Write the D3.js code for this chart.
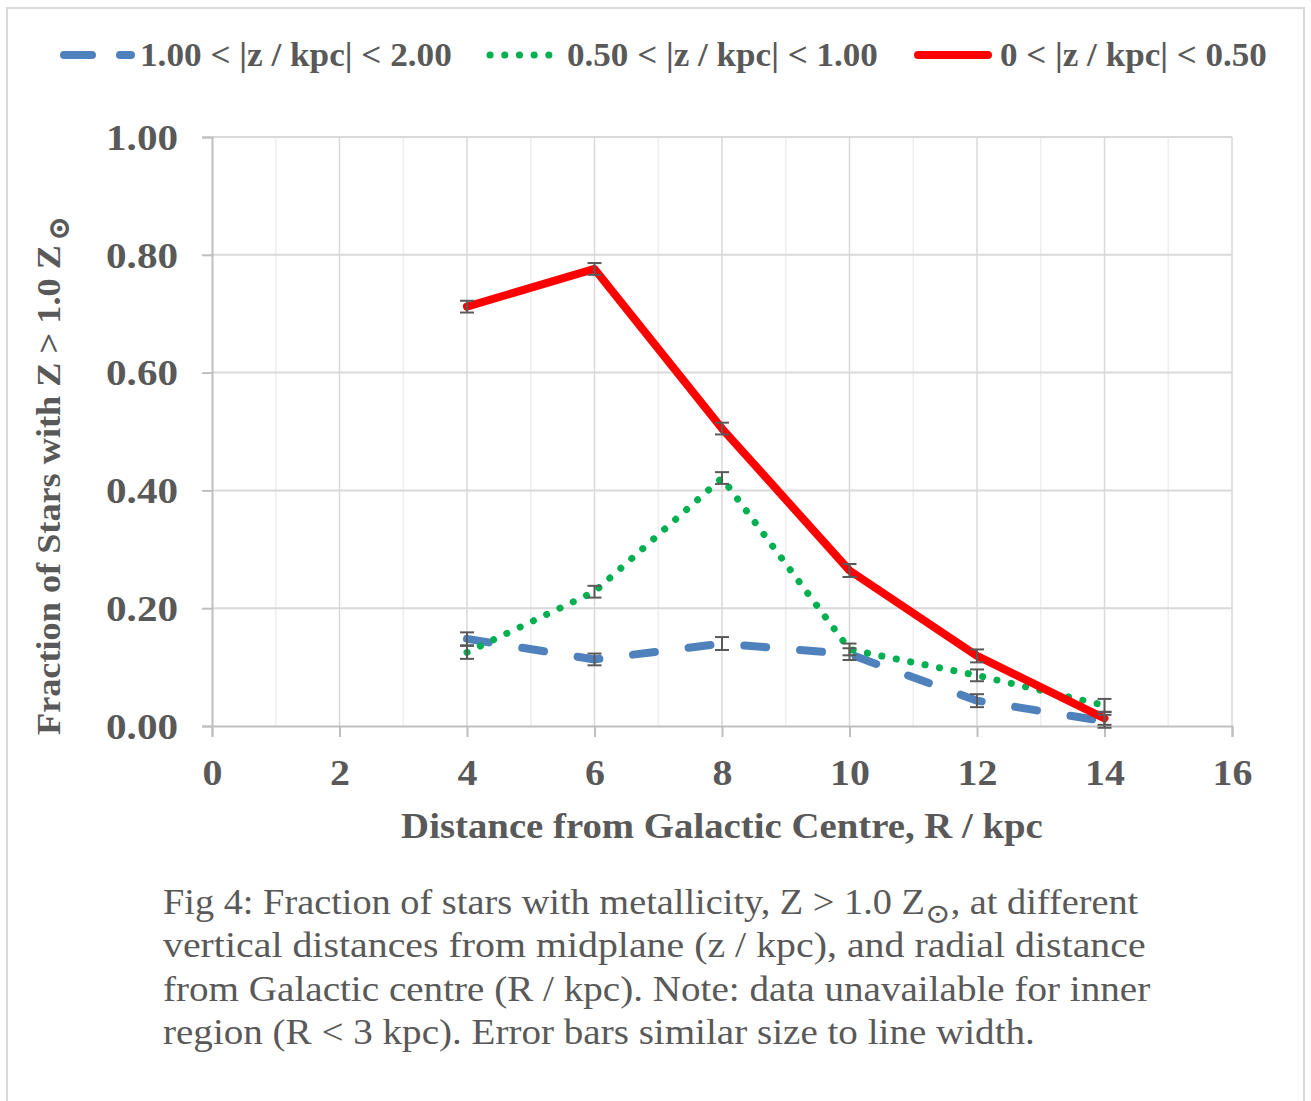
<!DOCTYPE html>
<html><head><meta charset="utf-8">
<script src="https://cdn.jsdelivr.net/npm/d3@7"></script>
<style>body{margin:0;background:#fff}svg{display:block}</style>
</head><body>
<svg id="c" width="1311" height="1101"></svg>
<script>
const radii = [4, 6, 8, 10, 12, 14];
const seriesNames = ["1.00 < |z / kpc| < 2.00", "0.50 < |z / kpc| < 1.00", "0 < |z / kpc| < 0.50"];
const highZ = [0.148, 0.113, 0.140, 0.122, 0.043, 0.008];
const midZ  = [0.125, 0.228, 0.421, 0.130, 0.086, 0.035];
const lowZ  = [0.712, 0.776, 0.505, 0.264, 0.119, 0.013];
const highErr = [0.011, 0.010, 0.011, 0.010, 0.011, 0.011];
const midErr  = [0.011, 0.010, 0.010, 0.010, 0.010, 0.011];
const lowErr  = [0.010, 0.010, 0.010, 0.011, 0.011, 0.011];
const xTicks = [0, 2, 4, 6, 8, 10, 12, 14, 16];
const xMinor = [1, 3, 5, 7, 9, 11, 13, 15];
const yTicks = [0, 0.2, 0.4, 0.6, 0.8, 1.0];
const xTitle = "Distance from Galactic Centre, R / kpc";
const yTitle = "Fraction of Stars with Z > 1.0 Z";
const captionLines = [
  ["Fig 4: Fraction of stars with metallicity, Z > 1.0 Z", "\u2299", ", at different"],
  ["vertical distances from midplane (z / kpc), and radial distance"],
  ["from Galactic centre (R / kpc). Note: data unavailable for inner"],
  ["region (R < 3 kpc). Error bars similar size to line width."]
];

const svg = d3.select("#c");
const FONT = "'Liberation Serif', 'DejaVu Serif', serif";
const TXT = "#595959";

// stretch a text element horizontally about anchor x so that it has width targetW
function stretch(sel, ax, targetW) {
  const w = sel.node().getBBox().width;
  const s = targetW / w;
  sel.attr("transform", `translate(${ax},0) scale(${s},1) translate(${-ax},0)`);
}

svg.append("rect").attr("x", 7).attr("y", 8).attr("width", 1297).attr("height", 1110)
  .attr("fill", "#fff").attr("stroke", "#d9d9d9").attr("stroke-width", 2);

const x = d3.scaleLinear().domain([0, 16]).range([212, 1232]);
const y = d3.scaleLinear().domain([0, 1]).range([726, 137]);

// gridlines
const g = svg.append("g");
g.selectAll(".vminor").data(xMinor).join("line")
  .attr("x1", d => x(d)).attr("x2", d => x(d)).attr("y1", y(1)).attr("y2", y(0))
  .attr("stroke", "#eeeeee").attr("stroke-width", 1.5);
g.selectAll(".vmajor").data(xTicks.slice(1)).join("line")
  .attr("x1", d => x(d)).attr("x2", d => x(d)).attr("y1", y(1)).attr("y2", y(0))
  .attr("stroke", "#d9d9d9").attr("stroke-width", 1.5);
g.selectAll(".hmajor").data(yTicks.slice(1)).join("line")
  .attr("x1", x(0)).attr("x2", x(16)).attr("y1", d => y(d)).attr("y2", d => y(d))
  .attr("stroke", "#d9d9d9").attr("stroke-width", 2);

// axes
const xAxis = d3.axisBottom(x).tickValues(xTicks).tickSize(11).tickFormat(d3.format("d"));
const yAxis = d3.axisLeft(y).tickValues(yTicks).tickSize(10).tickFormat(d3.format(".2f"));
const xa = svg.append("g").attr("transform", `translate(0,${y(0)})`).call(xAxis);
const ya = svg.append("g").attr("transform", `translate(${x(0)},0)`).call(yAxis);
[xa, ya].forEach(a => {
  a.select(".domain").attr("stroke", "#bfbfbf").attr("stroke-width", 2);
  a.selectAll(".tick line").attr("stroke", "#bfbfbf").attr("stroke-width", 2);
  a.selectAll("text").attr("fill", TXT).attr("font-family", FONT)
    .attr("font-weight", "bold").attr("font-size", 35);
});
xa.selectAll(".tick text").attr("y", 34).attr("dy", "0.71em").each(function () {
  const t = d3.select(this);
  stretch(t, 0, this.getBBox().width * 1.14);
});
ya.selectAll(".tick text").attr("x", -34).attr("dy", "0.35em").each(function () {
  const t = d3.select(this);
  stretch(t, -34, 72);
});

// titles
const xt = svg.append("text").attr("x", x(8)).attr("y", 838).attr("text-anchor", "middle")
  .attr("fill", TXT).attr("font-family", FONT).attr("font-weight", "bold").attr("font-size", 35)
  .text(xTitle);
stretch(xt, x(8), 642);

const ytg = svg.append("g").attr("transform", "translate(60,735) rotate(-90)");
const yt = ytg.append("text").attr("x", 0).attr("y", 0)
  .attr("fill", TXT).attr("font-family", FONT)
  .attr("font-weight", "bold").attr("font-size", 33).text(yTitle);
stretch(yt, 0, 490);
ytg.append("text").attr("x", 494).attr("y", 9).attr("fill", TXT).attr("font-family", FONT)
  .attr("font-weight", "bold").attr("font-size", 30).text("\u2299");

// series
const series = [
  {vals: highZ, err: highErr, color: "#4f81bd", width: 8, dash: "22,34", cap: "round"},
  {vals: midZ, err: midErr, color: "#00b050", width: 7, dash: "0.1,14.6", cap: "round"},
  {vals: lowZ, err: lowErr, color: "#ff0000", width: 8, dash: null, cap: "round"}
];
const line = d3.line().x((d, i) => x(radii[i])).y(d => y(d));
series.forEach(s => {
  svg.append("path").datum(s.vals).attr("d", line).attr("fill", "none")
    .attr("stroke", s.color).attr("stroke-width", s.width)
    .attr("stroke-linecap", s.cap).attr("stroke-linejoin", "round")
    .attr("stroke-dasharray", s.dash);
});
// error bars
series.forEach(s => {
  const eb = svg.append("g").attr("stroke", "#595959").attr("stroke-width", 2);
  s.vals.forEach((v, i) => {
    const cx = x(radii[i]), y1 = y(v + s.err[i]), y2 = y(v - s.err[i]);
    eb.append("line").attr("x1", cx).attr("x2", cx).attr("y1", y1).attr("y2", y2);
    eb.append("line").attr("x1", cx - 7).attr("x2", cx + 7).attr("y1", y1).attr("y2", y1);
    eb.append("line").attr("x1", cx - 7).attr("x2", cx + 7).attr("y1", y2).attr("y2", y2);
  });
});

// legend
const legendPos = [{x0: 64, x1: 131, tx: 140, w: 312}, {x0: 490, x1: 560, tx: 567, w: 311}, {x0: 918, x1: 988, tx: 1000, w: 267}];
series.forEach((s, i) => {
  const p = legendPos[i];
  svg.append("line").attr("x1", p.x0).attr("x2", p.x1).attr("y1", 55).attr("y2", 55)
    .attr("stroke", s.color).attr("stroke-width", s.width).attr("stroke-linecap", s.cap)
    .attr("stroke-dasharray", i === 0 ? "28,28" : s.dash);
  const t = svg.append("text").attr("x", p.tx).attr("y", 66).attr("fill", TXT).attr("font-family", FONT)
    .attr("font-weight", "bold").attr("font-size", 33).text(seriesNames[i]);
  stretch(t, p.tx, p.w);
});

// caption
const capWidths = [976, 983, 988, 872];
captionLines.forEach((parts, i) => {
  const t = svg.append("text").attr("x", 163).attr("y", 914 + i * 43.5)
    .attr("fill", TXT).attr("font-family", FONT).attr("font-size", 35);
  parts.forEach((p, j) => {
    if (p === "\u2299") {
      t.append("tspan").attr("dy", 9).attr("font-size", 28).text(p);
    } else {
      const ts = t.append("tspan").text(p);
      if (j > 0) ts.attr("dy", -9);
    }
  });
  stretch(t, 163, capWidths[i]);
});
</script>
</body></html>
